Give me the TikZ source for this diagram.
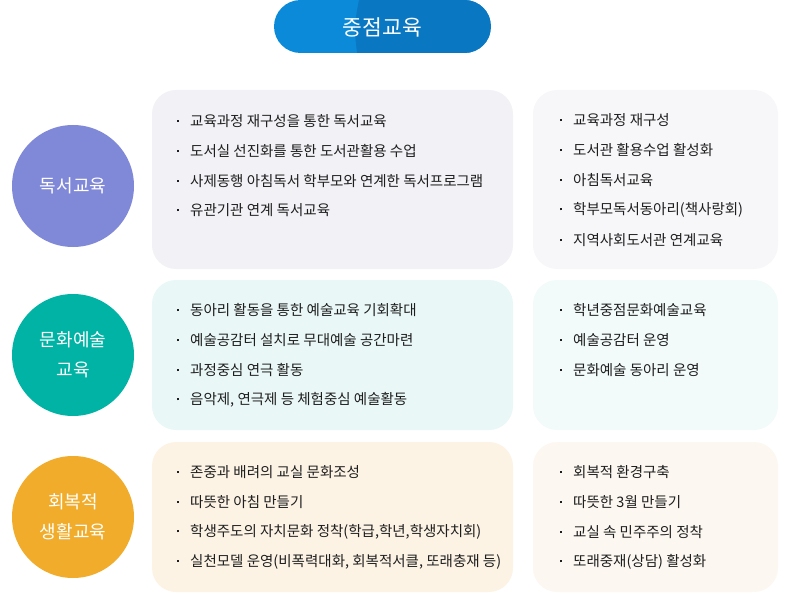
\documentclass[tikz,border=0pt]{standalone}
\usepackage{fontspec}
\setmainfont{Noto Sans CJK KR}
\usepackage{tikz}
\usetikzlibrary{positioning}
\definecolor{Ink}{HTML}{1E1E1E}
\definecolor{PillLight}{HTML}{0B8AD9}
\definecolor{PillDark}{HTML}{0A77C2}
\definecolor{Violet}{HTML}{8088D8}
\definecolor{VioletSoft}{HTML}{F1F1F6}
\definecolor{VioletPale}{HTML}{F7F7FA}
\definecolor{Teal}{HTML}{00B3A5}
\definecolor{TealSoft}{HTML}{EAF7F7}
\definecolor{TealPale}{HTML}{F2FAFA}
\definecolor{Amber}{HTML}{F0AC2A}
\definecolor{AmberSoft}{HTML}{FCF3E5}
\definecolor{AmberPale}{HTML}{FCF8F1}
\newcommand\dotmark{\makebox[13pt][l]{\rule[.3em]{2.2pt}{2.2pt}}}
\tikzset{
  topic/.style={circle,minimum size=122pt,inner sep=0pt,text=white,font=\fontsize{18}{30}\selectfont,align=center},
  panel/.style={rectangle,rounded corners=24pt,draw=none,inner sep=0pt},
  widepanel/.style={panel,minimum width=361pt},
  narrowpanel/.style={panel,minimum width=245pt},
  item/.style={anchor=west,inner sep=0pt,text=Ink,font=\fontsize{14.5}{16}\selectfont}
}
\begin{document}
\begin{tikzpicture}[x=1pt,y=-1pt]
  \useasboundingbox (0,0) rectangle (795,607);

  % title pill, two tone
  \begin{scope}
    \clip[rounded corners=26.5pt] (274,0) rectangle (491,53);
    \fill[PillLight] (274,0) rectangle (491,53);
    \fill[PillDark] (359,0) .. controls (354,26) .. (357,53) -- (491,53) -- (491,0) -- cycle;
  \end{scope}
  \node[text=white,font=\fontsize{21.5}{24}\selectfont] (title) at (382.5,27) {중점교육};

  % row 1
  \node[topic,fill=Violet] (reading) at (73,186) {독서교육};
  \node[widepanel,fill=VioletSoft,minimum height=179pt] (readingL) at (332.5,179.5) {};
  \node[narrowpanel,fill=VioletPale,minimum height=179pt] (readingR) at (655.5,179.5) {};
  \foreach \y/\txt [count=\n] in {121/{교육과정 재구성을 통한 독서교육},151/{도서실 선진화를 통한 도서관활용 수업},181/{사제동행 아침독서 학부모와 연계한 독서프로그램},210/{유관기관 연계 독서교육}}
    \node[item] (rL\n) at (177,\y) {\dotmark\txt};
  \foreach \y/\txt [count=\n] in {120/{교육과정 재구성},150/{도서관 활용수업 활성화},180/{아침독서교육},210/{학부모독서동아리(책사랑회)},240/{지역사회도서관 연계교육}}
    \node[item] (rR\n) at (560,\y) {\dotmark\txt};

  % row 2
  \node[topic,fill=Teal] (art) at (73,355) {문화예술\\교육};
  \node[widepanel,fill=TealSoft,minimum height=150pt] (artL) at (332.5,355) {};
  \node[narrowpanel,fill=TealPale,minimum height=150pt] (artR) at (655.5,355) {};
  \foreach \y/\txt [count=\n] in {310/{동아리 활동을 통한 예술교육 기회확대},340/{예술공감터 설치로 무대예술 공간마련},370/{과정중심 연극 활동},400/{음악제, 연극제 등 체험중심 예술활동}}
    \node[item] (aL\n) at (177,\y) {\dotmark\txt};
  \foreach \y/\txt [count=\n] in {310/{학년중점문화예술교육},340/{예술공감터 운영},370/{문화예술 동아리 운영}}
    \node[item] (aR\n) at (560,\y) {\dotmark\txt};

  % row 3
  \node[topic,fill=Amber] (restore) at (73,517) {회복적\\생활교육};
  \node[widepanel,fill=AmberSoft,minimum height=150pt] (restoreL) at (332.5,517) {};
  \node[narrowpanel,fill=AmberPale,minimum height=150pt] (restoreR) at (655.5,517) {};
  \foreach \y/\txt [count=\n] in {472/{존중과 배려의 교실 문화조성},502/{따뜻한 아침 만들기},532/{학생주도의 자치문화 정착(학급,학년,학생자치회)},562/{실천모델 운영(비폭력대화, 회복적서클, 또래충재 등)}}
    \node[item] (sL\n) at (177,\y) {\dotmark\txt};
  \foreach \y/\txt [count=\n] in {472/{회복적 환경구축},502/{따뜻한 3월 만들기},532/{교실 속 민주주의 정착},562/{또래중재(상담) 활성화}}
    \node[item] (sR\n) at (560,\y) {\dotmark\txt};
\end{tikzpicture}
\end{document}
